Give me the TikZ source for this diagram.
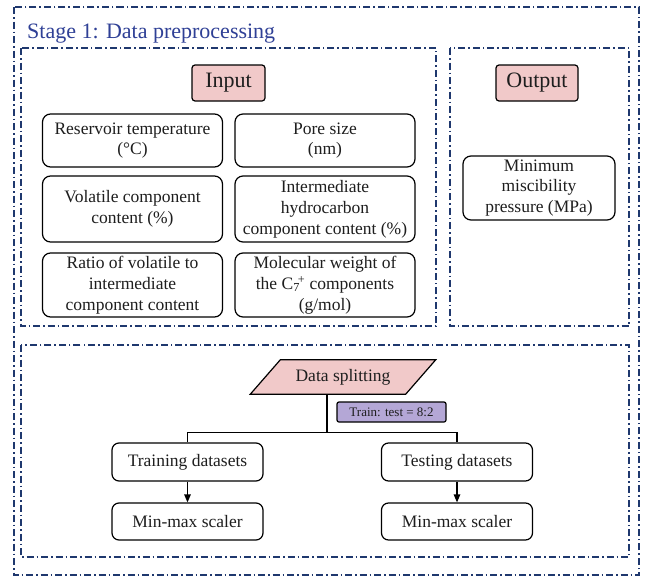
\documentclass[tikz,border=0pt]{standalone}
\usepackage{fontspec}
\setmainfont{Liberation Serif}
\usetikzlibrary{calc,arrows.meta}
\definecolor{navy}{RGB}{31,56,110}
\definecolor{titleblue}{RGB}{47,64,150}
\definecolor{pinkfill}{RGB}{241,201,201}
\definecolor{lavfill}{RGB}{180,167,214}
\definecolor{txt}{RGB}{30,30,30}
\begin{document}
\begin{tikzpicture}[x=1pt,y=-1pt,
 stagebox/.style={draw=navy,line width=1.4pt,dash pattern=on 7pt off 3pt on 1.5pt off 3pt},
 item/.style={draw=black,line width=1.2pt,rounded corners=8pt,align=center,text=txt,
   font=\fontsize{17.5}{20.8}\selectfont,inner sep=0pt,minimum width=180pt},
 head/.style={draw=black,line width=1.2pt,rounded corners=3pt,fill=pinkfill,text=txt,
   font=\fontsize{22}{26}\selectfont,inner sep=0pt,minimum height=36pt},
 flow/.style={draw=black,line width=1.2pt,rounded corners=7pt,text=txt,
   font=\fontsize{17.5}{20}\selectfont,inner sep=0pt,minimum width=151pt},
 link/.style={line width=1.2pt},
 arr/.style={line width=1.2pt,-{Triangle[length=8pt,width=6.5pt]}}]
\useasboundingbox (0,0) rectangle (646,576);
\fill[white] (0,0) rectangle (646,576);

% dash-dotted stage boxes
\draw[stagebox] (14,7) rectangle (639,575);
\draw[stagebox] (21,48) rectangle (436,326);
\draw[stagebox] (450,48) rectangle (629,326);
\draw[stagebox] (21,345) rectangle (629,557);

\node[anchor=base west,text=titleblue,font=\fontsize{22}{26}\selectfont,inner sep=0pt] (title) at (27,38) {Stage 1: Data preprocessing};

\node[head,minimum width=73pt] (input) at (228.5,83) {Input};
\node[head,minimum width=82pt] (output) at (537,83) {Output};

\node[item,minimum height=53pt] (temp) at (132.5,140.5) {Reservoir temperature\\(°C)};
\node[item,minimum height=53pt] (pore) at (325,140.5) {Pore size\\(nm)};
\node[item,minimum height=66pt] (vol) at (132.5,209) {Volatile component\\content (\%)};
\node[item,minimum height=66pt] (inter) at (325,209) {Intermediate\\hydrocarbon\\component content (\%)};
\node[item,minimum height=64pt] (ratio) at (132.5,285) {Ratio of volatile to\\intermediate\\component content};
\node[item,minimum height=64pt] (mw) at (325,285) {Molecular weight of\\the C\textsubscript{7}\kern-0.12em\textsuperscript{+} components\\(g/mol)};
\node[item,minimum width=152pt,minimum height=64pt] (mmp) at (539,188) {Minimum\\miscibility\\pressure (MPa)};

% data splitting parallelogram
\node[inner sep=0pt,minimum width=155pt,minimum height=34pt] (split) at (343,377) {};
\fill[pinkfill] ($(split.south west)+(-15,0)$) -- ($(split.south east)+(-15,0)$) -- ($(split.north east)+(15,0)$) -- ($(split.north west)+(15,0)$) -- cycle;
\draw[line width=1.2pt,line join=miter] ($(split.south west)+(-15,0)$) -- ($(split.south east)+(-15,0)$) -- ($(split.north east)+(15,0)$) -- ($(split.north west)+(15,0)$) -- cycle;
\node[text=txt,font=\fontsize{17.5}{20}\selectfont,inner sep=0pt] (splittext) at (split.center) {Data splitting};

\node[draw=black,line width=1.2pt,rounded corners=2pt,fill=lavfill,text=txt,inner sep=0pt,
  minimum width=109pt,minimum height=20pt,font=\fontsize{13}{15}\selectfont] (ratio82) at (391.5,412) {Train: test = 8:2};

\node[flow,minimum height=38pt] (train) at (187.5,462) {Training datasets};
\node[flow,minimum height=37pt] (scaleA) at (187.5,521.5) {Min-max scaler};
\node[flow,minimum height=38pt] (test) at (457,462) {Testing datasets};
\node[flow,minimum height=37pt] (scaleB) at (457,521.5) {Min-max scaler};

\coordinate (splitbot) at ($(split.south)+(-16,0)$);
\coordinate (junc) at ($(splitbot)+(0,38)$);
\draw[link] (splitbot) -- (junc);
\draw[link] (train.north) |- (junc) -| (test.north);
\draw[arr] (train) -- (scaleA);
\draw[arr] (test) -- (scaleB);
\end{tikzpicture}
\end{document}
